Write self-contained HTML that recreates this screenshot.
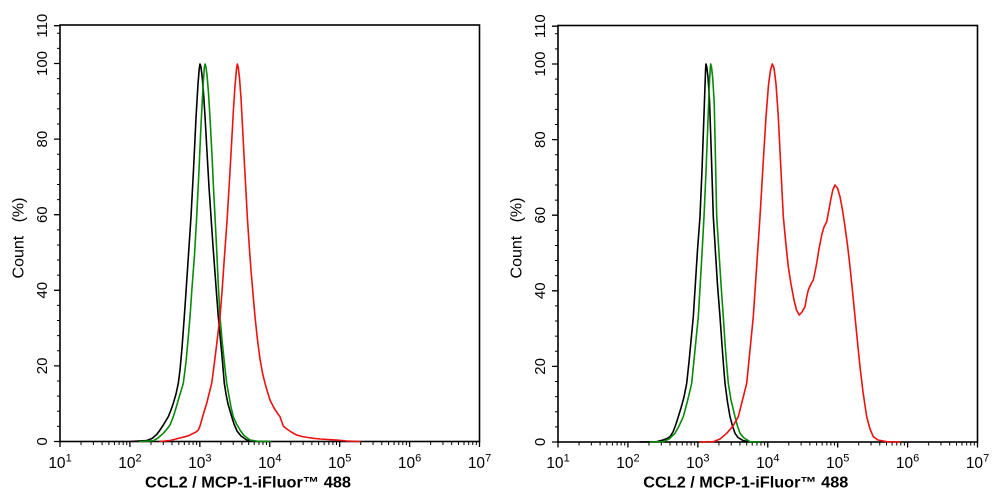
<!DOCTYPE html>
<html>
<head>
<meta charset="utf-8">
<style>
html,body{margin:0;padding:0;background:#fff;}
svg{display:block;}
</style>
</head>
<body>
<svg width="994" height="501" viewBox="0 0 994 501" xmlns="http://www.w3.org/2000/svg" font-family="Liberation Sans, Arial, sans-serif">
<defs>
  <path id="xminor" d="M21.05 0v3.5M33.36 0v3.5M42.09 0v3.5M48.87 0v3.5M54.4 0v3.5M59.08 0v3.5M63.14 0v3.5M66.71 0v3.5" stroke="#000" stroke-width="1" fill="none"/>
  <g id="frame">
    <rect x="0" y="-416.5" width="419.5" height="416.5" fill="none" stroke="#000" stroke-width="1.6"/>
    <path d="M0 0v5.5M69.92 0v5.5M139.84 0v5.5M209.76 0v5.5M279.68 0v5.5M349.6 0v5.5M419.5 0v5.5" stroke="#000" stroke-width="1.3" fill="none"/>
    <use href="#xminor" x="0"/>
    <use href="#xminor" x="69.92"/>
    <use href="#xminor" x="139.84"/>
    <use href="#xminor" x="209.76"/>
    <use href="#xminor" x="279.68"/>
    <use href="#xminor" x="349.6"/>
    <path d="M0 0h-6M0 -75.6h-6M0 -151.2h-6M0 -226.8h-6M0 -302.4h-6M0 -378h-6M0 -415.8h-6" stroke="#000" stroke-width="1.3" fill="none"/>
    <path d="M0 -15.12h-3M0 -30.24h-3M0 -45.36h-3M0 -60.48h-3M0 -90.72h-3M0 -105.84h-3M0 -120.96h-3M0 -136.08h-3M0 -166.32h-3M0 -181.44h-3M0 -196.56h-3M0 -211.68h-3M0 -241.92h-3M0 -257.04h-3M0 -272.16h-3M0 -287.28h-3M0 -317.52h-3M0 -332.64h-3M0 -347.76h-3M0 -362.88h-3M0 -393.12h-3M0 -408.24h-3" stroke="#000" stroke-width="1" fill="none"/>
  </g>
</defs>

<!-- LEFT PANEL -->
<g transform="translate(60,441.5)">
  <use href="#frame"/>
  <g font-size="15.5" fill="#000" text-anchor="middle">
    <text x="0" y="26.5">10<tspan dy="-6.5" font-size="11">1</tspan></text>
    <text x="69.92" y="26.5">10<tspan dy="-6.5" font-size="11">2</tspan></text>
    <text x="139.84" y="26.5">10<tspan dy="-6.5" font-size="11">3</tspan></text>
    <text x="209.76" y="26.5">10<tspan dy="-6.5" font-size="11">4</tspan></text>
    <text x="279.68" y="26.5">10<tspan dy="-6.5" font-size="11">5</tspan></text>
    <text x="349.6" y="26.5">10<tspan dy="-6.5" font-size="11">6</tspan></text>
    <text x="419.5" y="26.5">10<tspan dy="-6.5" font-size="11">7</tspan></text>
  </g>
  <g font-size="15" fill="#000" text-anchor="middle">
    <text transform="translate(-13,0) rotate(-90)">0</text>
    <text transform="translate(-13,-75.6) rotate(-90)">20</text>
    <text transform="translate(-13,-151.2) rotate(-90)">40</text>
    <text transform="translate(-13,-226.8) rotate(-90)">60</text>
    <text transform="translate(-13,-302.4) rotate(-90)">80</text>
    <text transform="translate(-13,-378) rotate(-90)">100</text>
    <text transform="translate(-13,-415.8) rotate(-90)">110</text>
  </g>
  <text font-size="16" fill="#000" transform="translate(-36.5,-203.5) rotate(-90)" text-anchor="middle" style="white-space:pre">Count   (%)</text>
  <text font-size="15.5" font-weight="bold" fill="#000" x="85" y="46" textLength="206" lengthAdjust="spacingAndGlyphs">CCL2 / MCP-1-iFluor™ 488</text>
</g>

<!-- RIGHT PANEL -->
<g transform="translate(558,442)">
  <use href="#frame"/>
  <g font-size="15.5" fill="#000" text-anchor="middle">
    <text x="0" y="26">10<tspan dy="-6.5" font-size="11">1</tspan></text>
    <text x="69.92" y="26">10<tspan dy="-6.5" font-size="11">2</tspan></text>
    <text x="139.84" y="26">10<tspan dy="-6.5" font-size="11">3</tspan></text>
    <text x="209.76" y="26">10<tspan dy="-6.5" font-size="11">4</tspan></text>
    <text x="279.68" y="26">10<tspan dy="-6.5" font-size="11">5</tspan></text>
    <text x="349.6" y="26">10<tspan dy="-6.5" font-size="11">6</tspan></text>
    <text x="419.5" y="26">10<tspan dy="-6.5" font-size="11">7</tspan></text>
  </g>
  <g font-size="15" fill="#000" text-anchor="middle">
    <text transform="translate(-13,0) rotate(-90)">0</text>
    <text transform="translate(-13,-75.6) rotate(-90)">20</text>
    <text transform="translate(-13,-151.2) rotate(-90)">40</text>
    <text transform="translate(-13,-226.8) rotate(-90)">60</text>
    <text transform="translate(-13,-302.4) rotate(-90)">80</text>
    <text transform="translate(-13,-378) rotate(-90)">100</text>
    <text transform="translate(-13,-415.8) rotate(-90)">110</text>
  </g>
  <text font-size="16" fill="#000" transform="translate(-36.5,-204) rotate(-90)" text-anchor="middle" style="white-space:pre">Count   (%)</text>
  <text font-size="15.5" font-weight="bold" fill="#000" x="85.3" y="45.5" textLength="205" lengthAdjust="spacingAndGlyphs">CCL2 / MCP-1-iFluor™ 488</text>
</g>

<g fill="none" stroke-width="1.6" stroke-linejoin="round" stroke-linecap="round">
<!-- LEFT PANEL CURVES -->
<polyline stroke="#000" points="130,441.5 146.7,440.5 152,438.5 156.7,434.5 160,430 163.3,425 166,420.5 168.3,416.7 171,410 173.3,403.3 176,394 178.3,383.3 180,370 182,348 184.3,316.7 186,292 188,262 191,216.7 193.5,170 196,118 198,84 199.3,68 200,64 200.8,66 202,75 203.5,93 205,116 207,152 209,187 211,216.7 213,246 215,273 216.7,296 218.3,316.7 220,335 222,356 224.3,383.3 226,394 228,404 231.7,416.7 234,424 237,431 241,436 246.7,440 255,441.3 270,441.5"/>
<polyline stroke="#0a8a0a" points="140,441.5 153.3,440.7 158,438 163.3,433.3 167,429 170,425 173.3,416.7 176,408 178.3,400 181,391 183.3,383.3 186,362 188,340 190,316.7 192,288 194.5,255 196.7,216.7 199,170 201,125 203,87 204.3,68 205,64 205.8,66 207,75 208.5,93 210,118 212,155 213.5,188 215,216.7 216.7,250 218.3,285 220,316.7 222,340 224.3,362 226.7,383.3 229,396 231,407 233.3,416.7 236.5,424 240,430 244,435.5 250,440 258,441.3 270,441.5"/>
<polyline stroke="#ee1111" points="160,441.5 170,440.5 178,438.5 185,436.7 189,435.5 193.3,433.3 196,432 198.3,430 200,426 201.7,420 204,412 206.7,403.3 209,394 211.7,383.3 214,366 216,350 218,333 220,316.7 222,292 224,263 225.8,238 227.3,216.7 229.5,180 231.5,145 233.3,112 235,86 236.5,69 237.3,64 238.2,67 239.5,78 241,98 242.7,130 244.5,165 246,192 247.3,216.7 249.3,247 251.3,274 253.2,296 255,316.7 257.5,340 260,359 262.5,373 265,383.3 267.5,392 270,400 274,408 278,414 280,416.7 281.7,421.5 283.3,426 285.5,428 288.3,430 292,432.5 296.7,435 302,436.5 308,437.5 313.3,438.3 320,439 328,439.5 336.7,440 346.7,441 360,441.5"/>

<!-- RIGHT PANEL CURVES -->
<polyline stroke="#000" points="640,442 656.7,441.7 663,440 667,438.5 670,436.7 673,432 676,424 678.3,416.7 681,408 684,397 686.7,383.3 689,362 691,341 693.3,316.7 695.3,285 697.5,250 700,216.7 702,170 703.8,120 705,86 705.6,69 706,64 706.8,67 708,77 709.5,100 711.2,150 713.3,216.7 715.5,253 717.5,285 720,316.7 722,345 723.5,365 725,383.3 727.5,402 730,416.7 732.5,426 735,433.3 738,437.5 743.3,440.7 750,441.8 760,442"/>
<polyline stroke="#0a8a0a" points="650,442 663.3,441.7 669,439 675,433.3 679,426 683.3,416.7 687,403 691.7,383.3 694,360 696,340 698.3,316.7 700.3,283 702.2,250 704,216.7 706,172 707.8,125 709.2,88 710.2,69 710.7,64 711.5,67 712.7,78 714.2,102 715.5,160 716.7,216.7 719,253 721.2,287 723.3,316.7 725,343 726.7,365 728.3,383.3 731,400 735,416.7 737.5,426 740,433.3 744,438 750,441.7 760,442"/>
<polyline stroke="#ee1111" points="700,442 713.3,441.7 720,439 726.7,433.3 733,426 738.3,416.7 742.5,400 746.7,383.3 750,350 753.3,316.7 756.7,266 760,216.7 763,166 766,116.7 768.5,85 770.5,70 772.3,64 774,68 776,84 778.3,116.7 780.8,167 783.3,216.7 786,245 788.3,266.7 791,284 794,300 796.5,310 799.3,315 802,312 805,306.7 806.5,298 808.3,290 811,284 813.3,280 815,272 816.7,263.3 819,249 821.7,235 824,227 826.7,221.7 828.7,211 830.7,200 832.8,190 835,185 837.5,188 840,196.7 842.5,210 845,226.7 847.5,245 850,266.7 852.5,291 855,316.7 857.5,342 860,366.7 863,392 866.7,416.7 870,429 873.3,436.7 878,440 886.7,441.7 900,442"/>
</g>
</svg>
</body>
</html>
